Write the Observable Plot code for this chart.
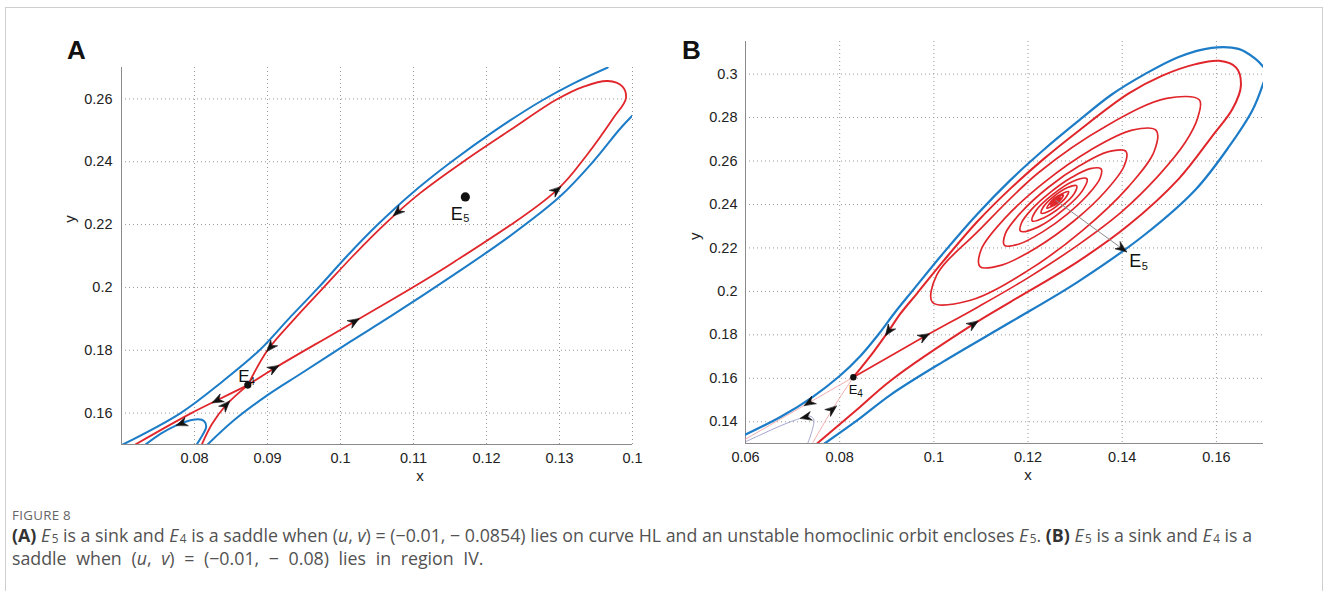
<!DOCTYPE html>
<html><head><meta charset="utf-8">
<script src="https://cdn.jsdelivr.net/npm/d3@7"></script>
<script src="https://cdn.jsdelivr.net/npm/@observablehq/plot@0.6"></script>
<style>
body{margin:0;background:#fff;}
#fig{position:relative;width:1328px;height:591px;overflow:hidden;background:#fff;}
#frame{position:absolute;left:5px;top:7px;width:1318px;height:640px;border:1px solid #cfcfcf;box-sizing:border-box;}
.panel{position:absolute;top:0;}
.letter{position:absolute;font:bold 26px/26px "Liberation Sans",Arial,sans-serif;color:#111;}
#cap{position:absolute;left:12px;top:506px;width:1310px;font-family:"Open Sans",sans-serif;color:#525252;white-space:nowrap;}
#cap .fig{font-size:13.3px;line-height:18px;letter-spacing:.3px;color:#666;}
#cap .txt{font-size:17.8px;line-height:23px;}
#cap .l2{word-spacing:5px;}
#cap b{color:#333;}
#cap sub{font-size:.66em;vertical-align:-.12em;line-height:1;margin-left:1.5px;}
</style></head>
<body>
<div id="fig">
  <div id="frame"></div>
  <div id="pa" class="panel" style="left:0"></div>
  <div id="pb" class="panel" style="left:660px"></div>
  <div class="letter" style="left:67px;top:37px">A</div>
  <div class="letter" style="left:682px;top:37px">B</div>
  <div id="cap">
    <div class="fig">FIGURE 8</div>
    <div class="txt"><b>(A)</b> <i>E</i><sub>5</sub> is a sink and <i>E</i><sub>4</sub> is a saddle when (<i>u</i>, <i>v</i>) = (−0.01, − 0.0854) lies on curve HL and an unstable homoclinic orbit encloses <i>E</i><sub>5</sub>. <b>(B)</b> <i>E</i><sub>5</sub> is a sink and <i>E</i><sub>4</sub> is a<br><span class="l2">saddle when (<i>u</i>, <i>v</i>) = (−0.01, − 0.08) lies in region IV.</span></div>
  </div>
</div>
<script>
// ---------- Panel A data ----------
const xTicksA = [0.08, 0.09, 0.10, 0.11, 0.12, 0.13, 0.14];
const xLabelsA = ["0.08", "0.09", "0.1", "0.11", "0.12", "0.13", "0.1"];
const yTicksA = [0.16, 0.18, 0.20, 0.22, 0.24, 0.26];
const yLabelsA = ["0.16", "0.18", "0.2", "0.22", "0.24", "0.26"];

const blueUpperA = [[0.0702,0.150],[0.0781,0.160],[0.0838,0.170],[0.0889,0.180],[0.0929,0.190],[0.0970,0.200],[0.1009,0.210],[0.1051,0.220],[0.1098,0.230],[0.1152,0.240],[0.1212,0.250],[0.1276,0.2595],[0.1318,0.2648],[0.1366,0.2700]];
const blueLowerA = [[0.0818,0.150],[0.0854,0.1577],[0.0900,0.1657],[0.0946,0.1726],[0.1014,0.1828],[0.1070,0.1910],[0.1155,0.2040],[0.1230,0.2160],[0.1301,0.2290],[0.1346,0.2400],[0.1383,0.2505],[0.1400,0.2547]];
const blueHookA = [[0.0803,0.150],[0.0811,0.1530],[0.0816,0.1556],[0.0813,0.1575],[0.0805,0.1580],[0.0790,0.1574],[0.0775,0.1561],[0.0755,0.1536],[0.0733,0.150]];
const redLoopA = [[0.0873,0.1689],[0.0909,0.1742],[0.1019,0.1891],[0.1155,0.2080],[0.1296,0.2309],[0.1337,0.2420],[0.1374,0.2540],[0.1391,0.2602],[0.1386,0.2640],[0.1366,0.2657],[0.1334,0.2640],[0.1296,0.2598],[0.1232,0.2500],[0.1168,0.2400],[0.1109,0.2300],[0.1060,0.2200],[0.1017,0.2100],[0.0977,0.2000],[0.0937,0.1900],[0.0900,0.1800],[0.0873,0.1689]];
const redOutA = [[0.0873,0.1689],[0.0831,0.1641],[0.0795,0.1599],[0.0719,0.150]];
const redInA = [[0.0810,0.150],[0.0824,0.1565],[0.0843,0.1625],[0.0873,0.1689]];
const arrowsA = [[0.1078,0.2240,-0.0049,-0.0100],[0.0904,0.1810,-0.0037,-0.0100],[0.0909,0.1742,0.0110,0.0149],[0.1019,0.1891,0.0136,0.0189],[0.1296,0.2309,0.0182,0.0340],[0.0831,0.1641,-0.0042,-0.0048],[0.0843,0.1625,0.0025,0.0062],[0.0782,0.1567,-0.0015,-0.0013]];
const e4A = [0.0873, 0.1689];
const e5A = [0.1171, 0.2288];
const e4LabelA = [0.0860, 0.1716];
const e5LabelA = [0.1151, 0.2234];

// ---------- Panel B data ----------
const xTicksB = [0.06, 0.08, 0.10, 0.12, 0.14, 0.16];
const xLabelsB = ["0.06", "0.08", "0.1", "0.12", "0.14", "0.16"];
const yTicksB = [0.14, 0.16, 0.18, 0.20, 0.22, 0.24, 0.26, 0.28, 0.30];
const yLabelsB = ["0.14", "0.16", "0.18", "0.2", "0.22", "0.24", "0.26", "0.28", "0.3"];

const blueUpperB = [[0.0600,0.1341],[0.0675,0.1423],[0.0743,0.1515],[0.0798,0.1607],[0.0844,0.1703],[0.0883,0.1804],[0.0918,0.1905],[0.0954,0.2001],[0.1020,0.2176],[0.1092,0.2355],[0.1162,0.2511],[0.1234,0.2653],[0.1305,0.2781],[0.1377,0.2905],[0.1449,0.3001],[0.1520,0.3079],[0.1590,0.3121],[0.1647,0.3116],[0.1683,0.3070],[0.1700,0.3032]];
const blueLowerB = [[0.0768,0.1300],[0.0837,0.1406],[0.0908,0.1524],[0.1020,0.1677],[0.1163,0.1859],[0.1305,0.2043],[0.1449,0.2263],[0.1556,0.2469],[0.1627,0.2667],[0.1677,0.2836],[0.1700,0.2961]];
const redOuterB = [[0.0752,0.1300],[0.0837,0.1456],[0.0908,0.1589],[0.1084,0.1849],[0.1163,0.1952],[0.1305,0.2136],[0.1413,0.2304],[0.1520,0.2518],[0.1592,0.2717],[0.1634,0.2839],[0.1652,0.2946],[0.1642,0.3030],[0.1606,0.3061],[0.1556,0.3046],[0.1484,0.2992],[0.1413,0.2910],[0.1305,0.2735],[0.1234,0.2611],[0.1163,0.2474],[0.1091,0.2318],[0.1020,0.2139],[0.0964,0.1990],[0.0927,0.1892],[0.0904,0.1818],[0.0872,0.1722],[0.0829,0.1605]];
const spiralB = [[0.0829,0.1605],[0.0980,0.1792],[0.1091,0.1925],[0.1198,0.2060],[0.1305,0.2212],[0.1398,0.2365],[0.1477,0.2533],[0.1534,0.2686],[0.1561,0.2804],[0.1564,0.2881],[0.1494,0.2888],[0.1369,0.2765],[0.1222,0.2546],[0.1094,0.2277],[0.1006,0.2075],[0.0997,0.1950],[0.1076,0.1958],[0.1197,0.2092],[0.1316,0.2281],[0.1413,0.2481],[0.1468,0.2645],[0.1472,0.2741],[0.1421,0.2742],[0.1333,0.2651],[0.1235,0.2503],[0.1151,0.2337],[0.1101,0.2195],[0.1098,0.2114],[0.1144,0.2121],[0.1217,0.2200],[0.1298,0.2325],[0.1365,0.2462],[0.1404,0.2577],[0.1408,0.2644],[0.1371,0.2643],[0.1310,0.2579],[0.1242,0.2477],[0.1185,0.2363],[0.1152,0.2267],[0.1150,0.2212],[0.1181,0.2218],[0.1231,0.2274],[0.1284,0.2357],[0.1328,0.2447],[0.1353,0.2521],[0.1355,0.2564],[0.1332,0.2565],[0.1293,0.2525],[0.1248,0.2457],[0.1209,0.2381],[0.1186,0.2315],[0.1184,0.2277],[0.1222,0.2297],[0.1276,0.2377],[0.1316,0.2465],[0.1325,0.2518],[0.1296,0.2507],[0.1252,0.2445],[0.1216,0.2369],[0.1209,0.2324],[0.1234,0.2339],[0.1271,0.2391],[0.1298,0.2450],[0.1303,0.2486],[0.1284,0.2478],[0.1254,0.2436],[0.1232,0.2387],[0.1228,0.2360],[0.1244,0.2369],[0.1266,0.2402],[0.1282,0.2438],[0.1286,0.2459],[0.1256,0.2429],[0.1240,0.2383],[0.1263,0.2408],[0.1275,0.2443],[0.1257,0.2425],[0.1248,0.2398],[0.1261,0.2412],[0.1268,0.2432],[0.1258,0.2422],[0.1253,0.2407],[0.1260,0.2416],[0.1263,0.2426],[0.1257,0.2414],[0.1259,0.2419]];
const paleRedOutB = [[0.0829,0.1605],[0.0735,0.1488],[0.0600,0.1320]];
const paleRedInB = [[0.0742,0.1300],[0.0784,0.1456],[0.0829,0.1605]];
const paleBlueHookB = [[0.0732,0.1300],[0.0742,0.1364],[0.0745,0.1410],[0.0737,0.1426],[0.0718,0.1417],[0.0675,0.1382],[0.0633,0.1341],[0.0601,0.1309]];
const arrowsB = [[0.0904,0.1818,-0.0055,-0.0170],[0.0980,0.1792,0.0111,0.0133],[0.1084,0.1849,0.0255,0.0363],[0.0735,0.1488,-0.0228,-0.0287],[0.0784,0.1456,0.0087,0.0149],[0.0728,0.1422,-0.0019,-0.0009]];
const e5PointerB = [[0.1259,0.2419],[0.1409,0.2182]];
const e4B = [0.0829, 0.1605];
const e4LabelB = [0.0819, 0.1545];
const e5LabelB = [0.1415, 0.2137];

// ---------- helpers ----------
const BLUE = "#1c7cc7", RED = "#e0262b";
const stealth = {
  draw(ctx, l, r) {
    ctx.moveTo(0, -l);
    ctx.lineTo(r, 0);
    ctx.lineTo(0, -l * 0.32);
    ctx.lineTo(-r, 0);
    ctx.closePath();
  }
};
const ang = (dx, dy, kx, ky) => Math.atan2(dx * kx, dy * ky) * 180 / Math.PI;
const X = d => d[0], Y = d => d[1];
const line = (data, o) => Plot.line(data, {x: X, y: Y, curve: "catmull-rom", clip: true, strokeLinejoin: "round", strokeLinecap: "round", ...o});
const grid = {stroke: "#9a9a9a", strokeOpacity: 1, strokeDasharray: "1,3", strokeWidth: 1};
const axisColor = "#8a8a8a";
const font = "'Liberation Sans', Arial, Helvetica, sans-serif";

function label(pos, sub, size, subSize, dxSub) {
  return [
    Plot.text([pos], {x: X, y: Y, text: () => "E", textAnchor: "start", fontSize: size, fill: "#111"}),
    Plot.text([pos], {x: X, y: Y, text: () => sub, textAnchor: "start", fontSize: subSize, dx: dxSub, dy: size * 0.28, fill: "#111"})
  ];
}

// ---------- Panel A ----------
{
  const W = 660, H = 500, mL = 121, mR = 28, mT = 67, mB = 56;
  const xd = [0.07, 0.14], yd = [0.15, 0.27];
  const kx = (W - mL - mR) / (xd[1] - xd[0]), ky = (H - mT - mB) / (yd[1] - yd[0]);
  const fx = new Map(xTicksA.map((t, i) => [t, xLabelsA[i]]));
  const fy = new Map(yTicksA.map((t, i) => [t, yLabelsA[i]]));
  const p = Plot.plot({
    width: W, height: H, marginLeft: mL, marginRight: mR, marginTop: mT, marginBottom: mB,
    x: {domain: xd}, y: {domain: yd},
    style: {fontFamily: font, fontSize: "14px", color: "#222", background: "transparent", overflow: "visible"},
    marks: [
      Plot.gridX(xTicksA, grid),
      Plot.gridY(yTicksA, grid),
      Plot.ruleX([xd[0]], {stroke: axisColor}),
      Plot.ruleY([yd[0]], {stroke: axisColor}),
      Plot.axisX({ticks: xTicksA, tickFormat: d => fx.get(d), tickSize: 0, tickPadding: 8, fontSize: 14.5, label: null}),
      Plot.axisY({ticks: yTicksA, tickFormat: d => fy.get(d), tickSize: 0, tickPadding: 9, fontSize: 14.5, label: null}),
      line(blueUpperA, {stroke: BLUE, strokeWidth: 2}),
      line(blueLowerA, {stroke: BLUE, strokeWidth: 2}),
      line(blueHookA, {stroke: BLUE, strokeWidth: 2}),
      line(redLoopA, {stroke: RED, strokeWidth: 1.8}),
      line(redOutA, {stroke: RED, strokeWidth: 1.8}),
      line(redInA, {stroke: RED, strokeWidth: 1.8}),
      Plot.vector(arrowsA, {x: X, y: Y, rotate: d => ang(d[2], d[3], kx, ky), length: 11, r: 4.3, shape: stealth, anchor: "middle", fill: "#111", stroke: "#111", strokeWidth: 0.6}),
      Plot.dot([e4A], {x: X, y: Y, r: 3.6, fill: "#111"}),
      Plot.dot([e5A], {x: X, y: Y, r: 4.6, fill: "#111"}),
      ...label(e4LabelA, "4", 17, 10, 11),
      ...label(e5LabelA, "5", 18, 11, 12.5),
      Plot.text([0.1109], {x: d => d, frameAnchor: "bottom", dy: 36, text: () => "x", fontSize: 15}),
      Plot.text([0.2206], {y: d => d, frameAnchor: "left", dx: -51, rotate: -90, text: () => "y", fontSize: 15})
    ]
  });
  document.getElementById("pa").append(p);
}

// ---------- Panel B ----------
{
  const W = 668, H = 500, mL = 85, mR = 65, mT = 41, mB = 57;
  const xd = [0.06, 0.17], yd = [0.13, 0.315];
  const kx = (W - mL - mR) / (xd[1] - xd[0]), ky = (H - mT - mB) / (yd[1] - yd[0]);
  const fx = new Map(xTicksB.map((t, i) => [t, xLabelsB[i]]));
  const fy = new Map(yTicksB.map((t, i) => [t, yLabelsB[i]]));
  const tip = e5PointerB[1], base = e5PointerB[0];
  const p = Plot.plot({
    width: W, height: H, marginLeft: mL, marginRight: mR, marginTop: mT, marginBottom: mB,
    x: {domain: xd}, y: {domain: yd},
    style: {fontFamily: font, fontSize: "14px", color: "#222", background: "transparent", overflow: "visible"},
    marks: [
      Plot.gridX(xTicksB.slice(1), grid),
      Plot.gridY(yTicksB, grid),
      Plot.ruleX([xd[0]], {stroke: axisColor}),
      Plot.ruleY([yd[0]], {stroke: axisColor}),
      Plot.axisX({ticks: xTicksB, tickFormat: d => fx.get(d), tickSize: 0, tickPadding: 8, fontSize: 14.5, label: null}),
      Plot.axisY({ticks: yTicksB, tickFormat: d => fy.get(d), tickSize: 0, tickPadding: 8, fontSize: 14.5, label: null}),
      line(paleBlueHookB, {stroke: "#9c9ccc", strokeWidth: 0.9}),
      line(paleRedOutB, {stroke: "#f0a4a4", strokeWidth: 0.9}),
      line(paleRedInB, {stroke: "#f0a4a4", strokeWidth: 0.9}),
      line(blueUpperB, {stroke: BLUE, strokeWidth: 2.2}),
      line(blueLowerB, {stroke: BLUE, strokeWidth: 2.2}),
      line(redOuterB, {stroke: RED, strokeWidth: 2}),
      line(spiralB, {stroke: RED, strokeWidth: 1.7}),
      Plot.line(e5PointerB, {x: X, y: Y, stroke: "#8c8c8c", strokeWidth: 1}),
      Plot.vector([tip], {x: X, y: Y, rotate: ang(tip[0] - base[0], tip[1] - base[1], kx, ky), length: 11, r: 4.3, shape: stealth, anchor: "end", fill: "#111", stroke: "#111", strokeWidth: 0.6}),
      Plot.vector(arrowsB, {x: X, y: Y, rotate: d => ang(d[2], d[3], kx, ky), length: 11, r: 4.3, shape: stealth, anchor: "middle", fill: "#111", stroke: "#111", strokeWidth: 0.6}),
      Plot.dot([e4B], {x: X, y: Y, r: 3.2, fill: "#111"}),
      ...label(e4LabelB, "4", 13, 10, 8.5),
      ...label(e5LabelB, "5", 18, 11, 12.5),
      Plot.text([0.1200], {x: d => d, frameAnchor: "bottom", dy: 36, text: () => "x", fontSize: 15}),
      Plot.text([0.2236], {y: d => d, frameAnchor: "left", dx: -50, rotate: -90, text: () => "y", fontSize: 15})
    ]
  });
  document.getElementById("pb").append(p);
}
</script>
</body></html>
